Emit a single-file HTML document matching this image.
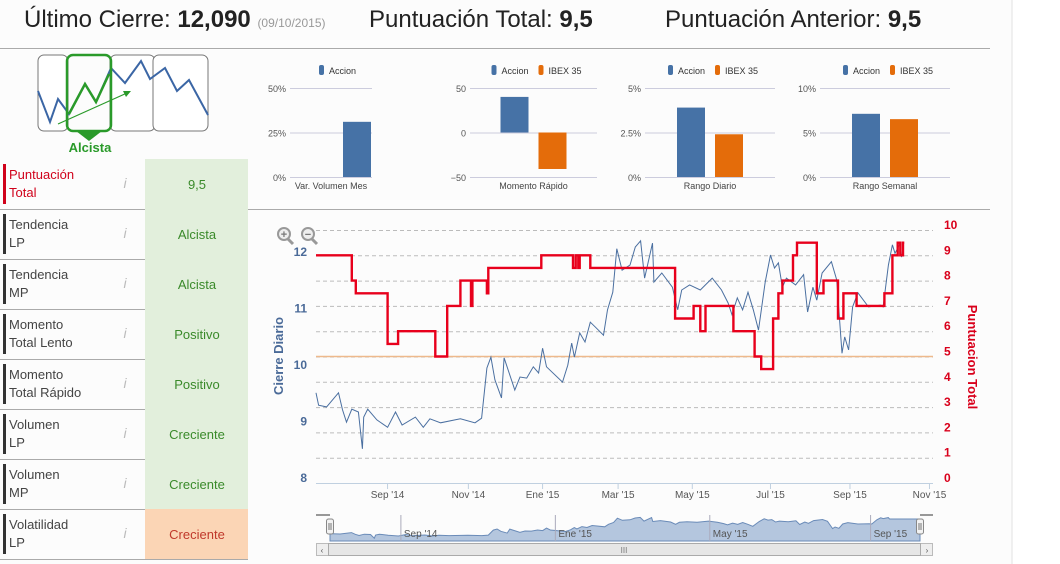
<!DOCTYPE html>
<html><head><meta charset="utf-8">
<style>
html,body{margin:0;padding:0;background:#fff;width:1060px;height:564px;overflow:hidden;font-family:"Liberation Sans",sans-serif;}
svg text{font-family:"Liberation Sans",sans-serif;}
</style></head>
<body>
<svg id="s" width="1060" height="564" viewBox="0 0 1060 564" xmlns="http://www.w3.org/2000/svg">
<rect x="0" y="0" width="1012" height="564" fill="#fcfcfc"/>
<line x1="1012" y1="0" x2="1012" y2="564" stroke="#e2e2e2"/>
<g>
<text x="24" y="27" font-size="24" fill="#222">Último Cierre: <tspan font-weight="bold">12,090</tspan> <tspan font-size="12" fill="#999">(09/10/2015)</tspan></text>
<text x="369" y="27" font-size="24" fill="#222">Puntuación Total: <tspan font-weight="bold">9,5</tspan></text>
<text x="665" y="27" font-size="24" fill="#222">Puntuación Anterior: <tspan font-weight="bold">9,5</tspan></text>
</g>
<line x1="0" y1="48.5" x2="990" y2="48.5" stroke="#aaa"/>
<line x1="0" y1="209.5" x2="990" y2="209.5" stroke="#aaa"/>
<g>
<rect x="38" y="55" width="30" height="76" rx="6" fill="#fff" stroke="#777"/>
<rect x="110" y="55" width="45" height="76" rx="6" fill="#fff" stroke="#777"/>
<rect x="153" y="55" width="55" height="76" rx="6" fill="#fff" stroke="#777"/>
<polyline points="38,91 50,122 58,99 69,114 85,84 96,102 111,68 125,83 141,61 150,79 165,68 177,91 189,80 208,115" fill="none" stroke="#3b66a5" stroke-width="2"/>
<rect x="67" y="55" width="44" height="76" rx="6" fill="none" stroke="#2a9a2a" stroke-width="2.5"/>
<polyline points="69,114 85,84 96,102 109,74" fill="none" stroke="#2a9a2a" stroke-width="2.5"/>
<line x1="58" y1="124" x2="127" y2="93" stroke="#2a9a2a" stroke-width="1.2"/>
<polygon points="131,91 123,91 126,97" fill="#2a9a2a"/>
<polygon points="76,131 102,131 89,141" fill="#2a9a2a"/>
<text x="90" y="152" font-size="13" font-weight="bold" fill="#2a9a2a" text-anchor="middle">Alcista</text>
</g>
<g id="rows"></g>
<g id="minis"></g>
<g id="main"></g>
</svg>
<script>
// ---------- data ----------
const rowLabels1 = ["Puntuación","Tendencia","Tendencia","Momento","Momento","Volumen","Volumen","Volatilidad"];
const rowLabels2 = ["Total","LP","MP","Total Lento","Total Rápido","LP","MP","LP"];
const rowValues = ["9,5","Alcista","Alcista","Positivo","Positivo","Creciente","Creciente","Creciente"];

const miniTitles = ["Var. Volumen Mes","Momento Rápido","Rango Diario","Rango Semanal"];
const miniAccion = [31, 40, 3.9, 7.1];
const miniIbex = [null, -41, 2.4, 6.5];
const miniMin = [0, -50, 0, 0];
const miniMax = [50, 50, 5, 10];
const miniTicks = [["0%","25%","50%"],["−50","0","50"],["0%","2.5%","5%"],["0%","5%","10%"]];

const priceDays = [0,2,8,17,20,23,27,32,35,36,39,46,54,60,65,75,81,86,94,109,120,125,129,132,135,140,142,150,154,159,164,168,171,174,186,190,193,195,199,203,207,211,217,220,224,227,231,237,241,245,248,254,255,261,269,273,276,282,290,299,306,311,314,318,322,326,330,334,339,343,346,349,352,355,362,368,371,375,378,382,389,393,397,399,402,405,409,417,426,428,432,435,437,441,442];
const priceVals = [9.49,9.27,9.24,9.49,9.19,8.97,9.20,9.15,8.50,9.06,9.20,9.01,8.88,9.15,8.92,9.06,8.88,9.03,8.96,9.03,8.96,9.04,9.93,10.12,9.72,9.40,10.11,9.54,9.77,9.75,9.95,9.84,10.28,9.95,9.68,9.98,10.37,10.12,10.55,10.39,10.74,10.65,10.51,10.96,11.27,12.04,11.66,11.75,12.07,12.18,11.52,12.14,11.45,11.61,11.36,10.96,11.31,11.40,11.31,11.52,11.31,11.08,10.87,11.17,10.96,11.27,10.96,10.60,11.45,11.93,11.70,11.79,11.36,11.52,11.40,11.58,10.92,11.36,11.13,11.61,11.81,11.49,10.19,10.48,10.25,11.01,11.26,11.01,11.04,11.01,11.75,12.11,11.96,12.14,11.89];

const scoreDays = [0,27,30,54,62,90,99,109,117,118,129,130,170,194,196,198,199,207,271,285,290,294,315,331,336,345,349,352,360,363,378,383,394,398,408,429,435,439,441,443];
const scoreVals = [9,8,7.5,5.5,6,5,7,8,7,8,7.5,8.5,9,8.5,9,8.5,9,8.5,6.5,7,6,7,6,5,4.5,6.5,7.5,8,9,9.5,7.5,8,6.5,7.5,7,7.5,9,9.5,9,9.5];
const scoreEnd = 444;

const tickDays = [54,115,171,228,284,343,403,463];
const tickLabels = ["Sep '14","Nov '14","Ene '15","Mar '15","May '15","Jul '15","Sep '15","Nov '15"];
const leftTicks = [8,9,10,11,12];
const rightTicks = [0,1,2,3,4,5,6,7,8,9,10];
const navTickDays = [56,178,300,427];
const navTickLabels = ["Sep '14","Ene '15","May '15","Sep '15"];
const plotLineScore = 5;

// ---------- helpers ----------
const NS="http://www.w3.org/2000/svg";
function mk(parent,tag,attrs,txt){const e=document.createElementNS(NS,tag);for(const k in attrs)e.setAttribute(k,attrs[k]);if(txt!==undefined)e.textContent=txt;parent.appendChild(e);return e;}

// ---------- table ----------
const rows=document.getElementById('rows');
rowLabels1.forEach((l,i)=>{
  const y=159+i*50;
  const red=i===0, orange=i===7;
  const bar=mk(rows,'rect',{x:3,y:y+5,width:3,height:40,fill:red?'#d0021b':'#333'});
  
  
  const t=mk(rows,'text',{x:9,y:y+20,'font-size':13,fill:red?'#d0021b':'#444'});
  
  
  mk(t,'tspan',{x:9},l); mk(t,'tspan',{x:9,dy:18},rowLabels2[i]);
  const info=mk(rows,'text',{x:125,y:y+29,'font-size':14,'font-style':'italic','font-family':'Liberation Serif, serif',fill:'#bbb','text-anchor':'middle'},'i');
  
  
  const c=mk(rows,'rect',{x:145,y:y,width:103,height:50,fill:orange?'#fbd5b5':'#e2efdc'});
  
  
  const v=mk(rows,'text',{x:197,y:y+30,'font-size':13,fill:orange?'#c0392b':'#3a8a2a','text-anchor':'middle'},rowValues[i]);
  
  
  if(i>0){const ln=mk(rows,'line',{x1:0,y1:y+50.5,x2:248,y2:y+50.5,stroke:'#aaa'});
  
  }
});

// ---------- mini charts ----------
const minis=document.getElementById('minis');
const miniX=[290,470,645,820], miniW=[82,127,130,130];
miniTitles.forEach((title,i)=>{
  const g=mk(minis,'g',{});
  
  
  const x0=miniX[i], w=miniW[i];
  const yv=v=>177-(v-miniMin[i])/(miniMax[i]-miniMin[i])*89;
  miniTicks[i].forEach((lab,k)=>{
    const y=177-k*44.5;
    mk(g,'line',{x1:x0,y1:y+.5,x2:x0+w,y2:y+.5,stroke:'#ccd'});
    const tl=mk(g,'text',{x:x0-4,y:y+4,'font-size':9,fill:'#555','text-anchor':'end'},lab);
    
    
  });
  const hasI=miniIbex[i]!==null;
  const cx=x0+w/2;
  const bw=28;
  const zero=yv(Math.max(miniMin[i],0));
  const ax= hasI? cx-bw-5 : x0+53;
  const ya=yv(miniAccion[i]);
  const b1=mk(g,'rect',{x:ax,y:Math.min(ya,zero),width:bw,height:Math.abs(zero-ya),fill:'#4672a6'});
  
  
  if(hasI){const yi=yv(miniIbex[i]);
    const b2=mk(g,'rect',{x:cx+5,y:Math.min(yi,zero),width:bw,height:Math.abs(zero-yi),fill:'#e46c0a'});
    
    }
  const tt=mk(g,'text',{x:cx,y:189,'font-size':9,fill:'#444','text-anchor':'middle'},title);
  
  
  const lx= hasI? cx-42 : cx-12;
  const le=mk(g,'g',{});
  
  
  mk(le,'rect',{x:lx,y:65,width:5,height:10,rx:2,fill:'#4672a6'});
  mk(le,'text',{x:lx+10,y:74,'font-size':9,fill:'#333'},'Accion');
  if(hasI){mk(le,'rect',{x:lx+47,y:65,width:5,height:10,rx:2,fill:'#e46c0a'});
  mk(le,'text',{x:lx+57,y:74,'font-size':9,fill:'#333'},'IBEX 35');}
});

// ---------- main chart ----------
const main=document.getElementById('main');
const L=316,R=933,B=483;
const xd=d=>L+d*1.325;
const yp=v=>477-(v-8)*56.5;
const ys=s=>B-s*25.3;
rightTicks.forEach(s=>{
  if(s>0){const gl=mk(main,'line',{x1:L,y1:ys(s)+.5,x2:R,y2:ys(s)+.5,stroke:'#bbb','stroke-dasharray':'4,3'});
  
  }
  const rl=mk(main,'text',{x:944,y:ys(s)-1,'font-size':12,'font-weight':'bold',fill:'#d9001b'},String(s));
  
  
});
leftTicks.forEach(v=>{
  const ll=mk(main,'text',{x:307,y:yp(v)+5,'font-size':12,'font-weight':'bold',fill:'#4a6a98','text-anchor':'end'},String(v));
  
  
});
const xa=mk(main,'line',{x1:L,y1:B+.5,x2:R,y2:B+.5,stroke:'#c0d0e0'});


tickDays.forEach((d,i)=>{
  mk(main,'line',{x1:xd(d),y1:B,x2:xd(d),y2:B+6,stroke:'#c0d0e0'});
  const tl=mk(main,'text',{x:xd(d),y:B+15,'font-size':10,fill:'#555','text-anchor':'middle'},tickLabels[i]);
  
  
});
const pl=mk(main,'line',{x1:L,y1:ys(plotLineScore),x2:R,y2:ys(plotLineScore),stroke:'#eeb98c','stroke-width':1.5});


let pts=priceDays.map((d,i)=>xd(d).toFixed(1)+','+yp(priceVals[i]).toFixed(1)).join(' ');
const price=mk(main,'polyline',{points:pts,fill:'none',stroke:'#4a6fa0','stroke-width':1});


let sp=[];
scoreDays.forEach((d,i)=>{
  const next=i<scoreDays.length-1?scoreDays[i+1]:scoreEnd;
  sp.push(xd(d).toFixed(1)+','+ys(scoreVals[i]).toFixed(1));
  sp.push(xd(next).toFixed(1)+','+ys(scoreVals[i]).toFixed(1));
});
const score=mk(main,'polyline',{points:sp.join(' '),fill:'none',stroke:'#e8001c','stroke-width':2.4,'stroke-linejoin':'miter'});


const t1=mk(main,'text',{x:0,y:0,'font-size':13,'font-weight':'bold','font-family':'Liberation Serif, serif',fill:'#4a6a98','text-anchor':'middle',transform:'translate(283,356) rotate(-90)'},'Cierre Diario');


const t2=mk(main,'text',{x:0,y:0,'font-size':13,'font-weight':'bold','font-family':'Liberation Serif, serif',fill:'#d9001b','text-anchor':'middle',transform:'translate(968,357) rotate(90)'},'Puntuacion Total');


[[284,'+'],[308,'−']].forEach(([x,s],i)=>{
  const g=mk(main,'g',{});
  
  
  mk(g,'line',{x1:x+4,y1:239,x2:x+9,y2:244,stroke:'#999','stroke-width':3});
  mk(g,'circle',{cx:x,cy:234,r:6,fill:'#eee',stroke:'#999','stroke-width':2});
  mk(g,'text',{x:x,y:238,'font-size':11,'font-weight':'bold',fill:'#777','text-anchor':'middle'},s);
});
const NL=330,NR=920,NT=515,NB=541;
const nx=d=>NL+d*1.266;
const ny=v=>NB-(v-8)/(12.6-8)*(NB-NT);
const nav=mk(main,'g',{});


mk(nav,'line',{x1:316,y1:NT,x2:NL,y2:NT,stroke:'#333'});
mk(nav,'line',{x1:NR,y1:NT,x2:933,y2:NT,stroke:'#333'});
let ap='M'+nx(priceDays[0])+','+NB+' '+priceDays.map((d,i)=>'L'+nx(d).toFixed(1)+','+ny(priceVals[i]).toFixed(1)).join(' ')+' L'+NR+','+ny(priceVals[priceVals.length-1]).toFixed(1)+' L'+NR+','+NB+'Z';
mk(nav,'path',{d:ap,fill:'#b4c6de',stroke:'#6a8bb8','stroke-width':1});
navTickDays.forEach((d,i)=>{
  mk(nav,'line',{x1:nx(d),y1:NT,x2:nx(d),y2:NB,stroke:'#aab'});
  const t=mk(nav,'text',{x:nx(d)+3,y:NB-4,'font-size':10,fill:'#555'},navTickLabels[i]);
  
  
});
[NL,NR].forEach(x=>{mk(nav,'rect',{x:x-3.5,y:NT+4,width:7,height:15,rx:2,fill:'#f2f2f2',stroke:'#888'});
  mk(nav,'line',{x1:x-1,y1:NT+8,x2:x-1,y2:NT+15,stroke:'#777'});mk(nav,'line',{x1:x+1,y1:NT+8,x2:x+1,y2:NT+15,stroke:'#777'});});
const sb=mk(main,'g',{});


mk(sb,'rect',{x:316.5,y:543.5,width:616,height:12,fill:'#eee',stroke:'#bbb'});
mk(sb,'rect',{x:328.5,y:543.5,width:592,height:12,fill:'#e6e6e6',stroke:'#aaa'});
mk(sb,'text',{x:624,y:553,'font-size':8,fill:'#777','text-anchor':'middle'},'III');
mk(sb,'text',{x:322,y:553,'font-size':8,fill:'#555','text-anchor':'middle'},'‹');
mk(sb,'text',{x:927,y:553,'font-size':8,fill:'#555','text-anchor':'middle'},'›');
</script>
</body></html>
